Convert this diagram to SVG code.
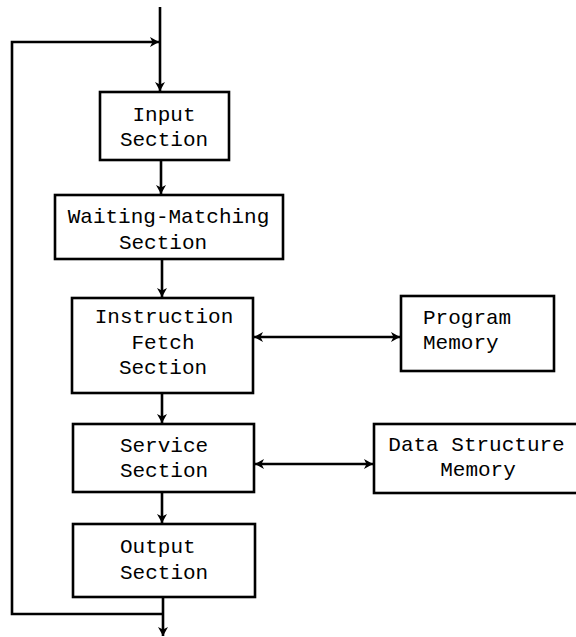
<svg xmlns="http://www.w3.org/2000/svg" width="576" height="637" viewBox="0 0 576 637">
<style>
.box{fill:#fff;stroke:#000;stroke-width:2.6}
.ln{fill:none;stroke:#000;stroke-width:2.6}
text{font-family:"Liberation Mono","DejaVu Sans Mono",monospace;font-size:21px;fill:#000}
.c{text-anchor:middle}
</style>
<defs>
<marker id="ah" viewBox="-10 -6 12 12" refX="0" refY="0" markerWidth="12" markerHeight="12" markerUnits="userSpaceOnUse" orient="auto-start-reverse">
<path d="M-9,-5 L0,0 L-9,5 L-6.5,0 Z" fill="#000"/>
</marker>
</defs>
<rect width="576" height="637" fill="#fff"/>
<g id="connectors">
<path class="ln" d="M160,7 V91" marker-end="url(#ah)"/>
<path class="ln" d="M163,614 H12 V42 H159" marker-end="url(#ah)"/>
<path class="ln" d="M161,160 V194" marker-end="url(#ah)"/>
<path class="ln" d="M162,259 V297" marker-end="url(#ah)"/>
<path class="ln" d="M162,393 V423" marker-end="url(#ah)"/>
<path class="ln" d="M162,492 V523" marker-end="url(#ah)"/>
<path class="ln" d="M163,597 V636" marker-end="url(#ah)"/>
<path class="ln" d="M254,337 H400" marker-start="url(#ah)" marker-end="url(#ah)"/>
<path class="ln" d="M255,464 H373" marker-start="url(#ah)" marker-end="url(#ah)"/>
</g>
<g id="input">
<rect class="box" x="100" y="92" width="129" height="68"/>
<text class="c" x="164" y="121">Input</text>
<text class="c" x="164" y="146">Section</text>
</g>
<g id="waiting-matching">
<rect class="box" x="55" y="195" width="228" height="64"/>
<text class="c" x="168.5" y="223">Waiting-Matching</text>
<text class="c" x="163" y="249">Section</text>
</g>
<g id="instruction-fetch">
<rect class="box" x="72" y="298" width="181" height="95"/>
<text class="c" x="164" y="323">Instruction</text>
<text class="c" x="163" y="349">Fetch</text>
<text class="c" x="163" y="374">Section</text>
</g>
<g id="program-memory">
<rect class="box" x="401" y="296" width="153" height="75"/>
<text x="423" y="324">Program</text>
<text x="423" y="349">Memory</text>
</g>
<g id="service">
<rect class="box" x="73" y="424" width="181" height="68"/>
<text class="c" x="164" y="452">Service</text>
<text class="c" x="164" y="477">Section</text>
</g>
<g id="data-structure-memory">
<rect class="box" x="374" y="424" width="210" height="69"/>
<text class="c" x="476.5" y="451">Data Structure</text>
<text class="c" x="478" y="476">Memory</text>
</g>
<g id="output">
<rect class="box" x="73" y="524" width="182" height="73"/>
<text x="120" y="553">Output</text>
<text x="120" y="579">Section</text>
</g>
</svg>
